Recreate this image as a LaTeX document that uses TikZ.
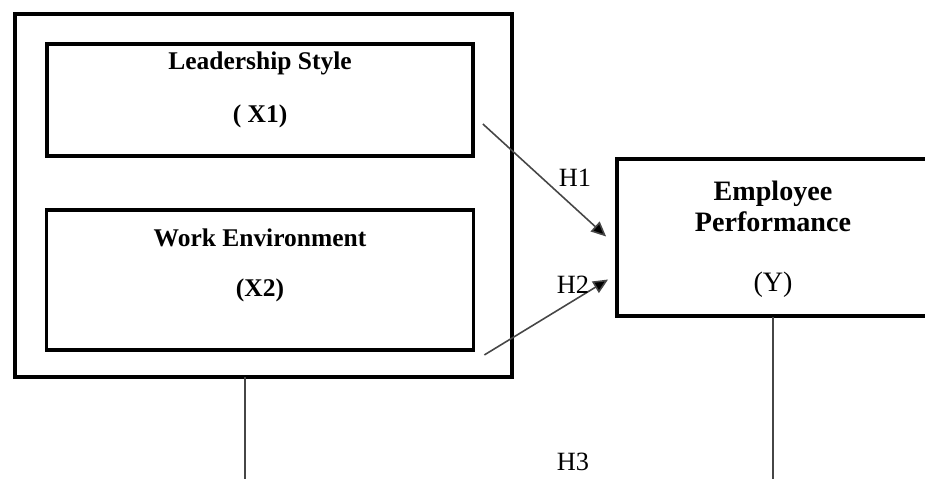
\documentclass[tikz,border=0pt]{standalone}
\usepackage{fontspec}
\setmainfont{Liberation Serif}
\usetikzlibrary{arrows.meta, positioning, calc}
\definecolor{linegray}{RGB}{70, 70, 70}

\begin{document}
\begin{tikzpicture}[x=0.02cm, y=-0.02cm, >={Triangle[length=8.5pt, width=7.5pt, fill=black]},
  box/.style={draw, line width=2.2pt, inner sep=0pt},
  lbl/.style={font=\fontsize{14.5}{17}\selectfont\bfseries, inner sep=0pt},
  hyp/.style={font=\fontsize{15}{17}\selectfont, inner sep=0pt},
  link/.style={linegray, line width=0.9pt}]
  \useasboundingbox (0,0) rectangle (925,479);

  % independent variables
  \node[box, line width=2.6pt, minimum width=9.94cm, minimum height=7.26cm] (indep) at (263.5,195.5) {};
  \node[box, minimum width=8.52cm, minimum height=2.24cm] (lsbox) at (260,100) {};
  \node[box, minimum width=8.54cm, minimum height=2.8cm] (webox) at (260,280) {};
  \node[lbl] (ls) at (260,63) {Leadership Style};
  \node[lbl] (x1) at (260,116) {( X1)};
  \node[lbl] (we) at (260,238) {Work Environment};
  \node[lbl] (x2) at (260,290) {(X2)};

  % dependent variable
  \node[box, minimum width=6.4cm, minimum height=3.14cm] (perf) at (777,237.5) {};
  \node[font=\fontsize{16}{17.6}\selectfont\bfseries, align=center, inner sep=0pt] (perftitle) at (773,206) {Employee\\Performance};
  \node[font=\fontsize{16}{18}\selectfont, inner sep=0pt] (y) at (773,285) {(Y)};

  \coordinate (h1start) at ($(lsbox.east)+(8,24)$);
  \coordinate (h1end) at ($(perf.west)+(-9,-1)$);
  \coordinate (h2start) at ($(webox.south east)+(9,3)$);
  \coordinate (h2end) at ($(perf.west)+(-7,42)$);
  \draw[link, ->] (h1start) -- (h1end);
  \draw[link, ->] (h2start) -- (h2end);
  \node[hyp] (h1) at (575,178) {H1};
  \node[hyp] (h2) at (573,285) {H2};

  % simultaneous effect
  \coordinate (leftdrop) at (245,377);
  \coordinate (leftend) at (245,479);
  \coordinate (rightdrop) at (773,317);
  \coordinate (rightend) at (773,479);
  \draw[link] (leftdrop) -- (leftend);
  \draw[link] (rightdrop) -- (rightend);
  \node[hyp] (h3) at (573,462) {H3};
\end{tikzpicture}
\end{document}
